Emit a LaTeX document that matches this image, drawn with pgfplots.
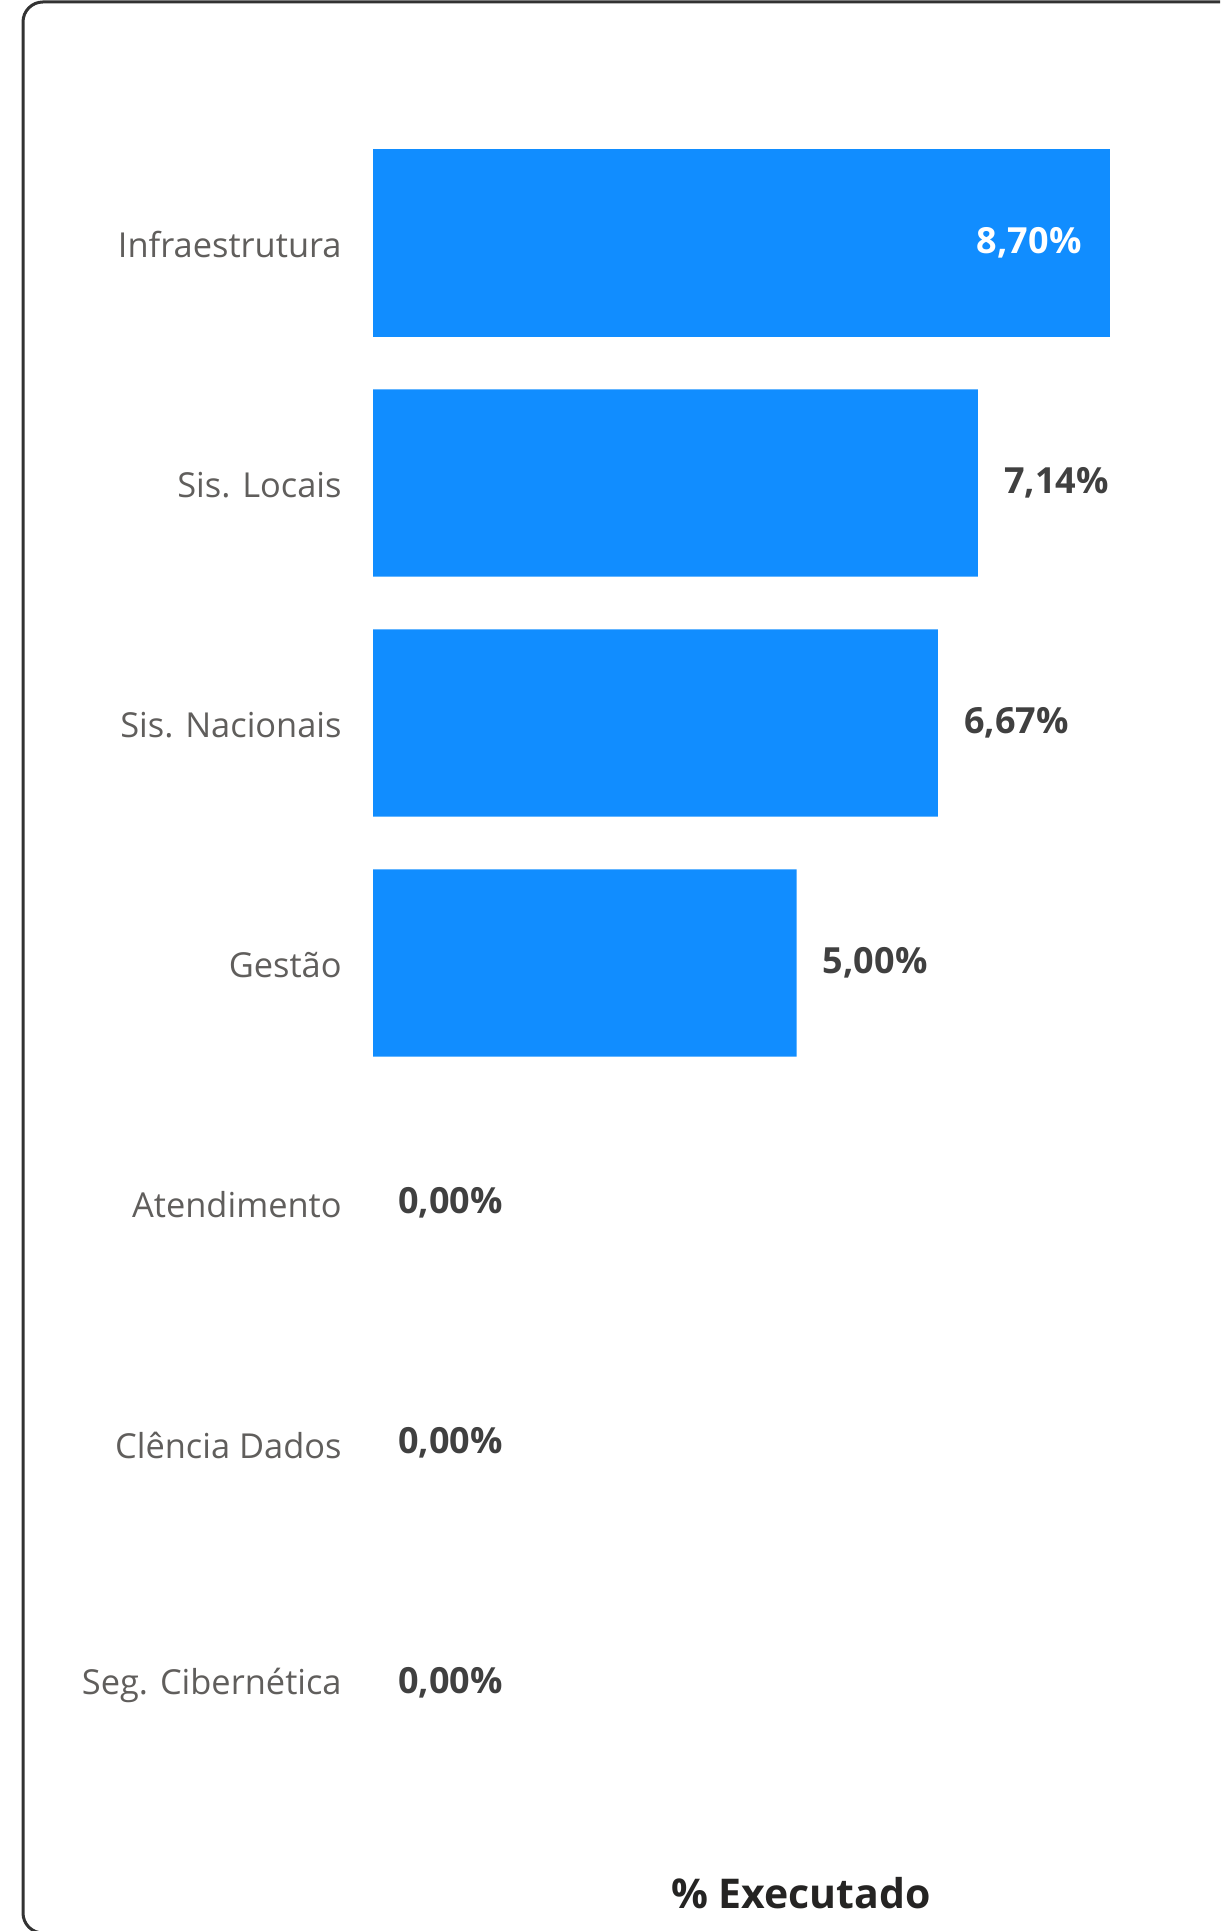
\documentclass[border=0pt]{standalone}
\usepackage{pgfplots}
\pgfplotsset{compat=1.18}
\usepackage{fontspec}
\setmainfont{Open Sans}
\definecolor{barblue}{HTML}{118DFF}
\definecolor{catgray}{HTML}{605E5C}
\definecolor{valgray}{HTML}{404040}
\definecolor{titlecol}{HTML}{252423}
\begin{document}
\begin{tikzpicture}
\useasboundingbox (0pt,0pt) rectangle (610pt,965.5pt);
\begin{scope}
\clip (0pt,0pt) rectangle (610pt,965.5pt);
\draw[line width=1.5pt, color=black!80, rounded corners=10pt] (11.5pt,-1pt) rectangle (640pt,964.5pt);
\end{scope}
\begin{axis}[
  at={(186.5pt,64pt)}, anchor=south west, scale only axis,
  width=423.5pt, height=840pt,
  xmin=0, xmax=10, ymin=-0.5, ymax=6.5, y dir=reverse,
  axis line style={draw=none}, xtick=\empty,
  ytick={0,...,6},
  yticklabels={Infraestrutura, Sis. Locais, Sis. Nacionais, Gestão, Atendimento, Clência Dados, Seg. Cibernética},
  major tick length=0pt,
  yticklabel style={font=\fontsize{17.2}{20}\selectfont, text=catgray, anchor=east, inner sep=0pt, xshift=-15.5pt, yshift=-1pt},
  xbar, bar width=0.78, bar shift=0pt, clip=false,
  /pgf/number format/assume math mode=true,
  point meta=x,
  nodes near coords={\pgfmathprintnumber[fixed,fixed zerofill,precision=2,use comma]{\pgfplotspointmeta}\%},
]
\addplot[fill=barblue, draw=none,
  nodes near coords style={font=\fontsize{18}{20}\selectfont\bfseries, text=white, anchor=east, inner sep=0pt, xshift=-14pt}]
  coordinates {(8.70,0)};
\addplot[fill=barblue, draw=none,
  nodes near coords style={font=\fontsize{18}{20}\selectfont\bfseries, text=valgray, anchor=west, inner sep=0pt, xshift=13pt}]
  coordinates {(7.14,1) (6.67,2) (5.00,3)};
\addplot[fill=none, draw=none,
  nodes near coords style={font=\fontsize{18}{20}\selectfont\bfseries, text=valgray, anchor=west, inner sep=0pt, xshift=12.5pt}]
  coordinates {(0,4) (0,5) (0,6)};
\end{axis}
\node[anchor=base, font=\fontsize{20.5}{24}\selectfont\bfseries, text=titlecol] at (400.5pt,11.5pt) {\% Executado};
\end{tikzpicture}
\end{document}
